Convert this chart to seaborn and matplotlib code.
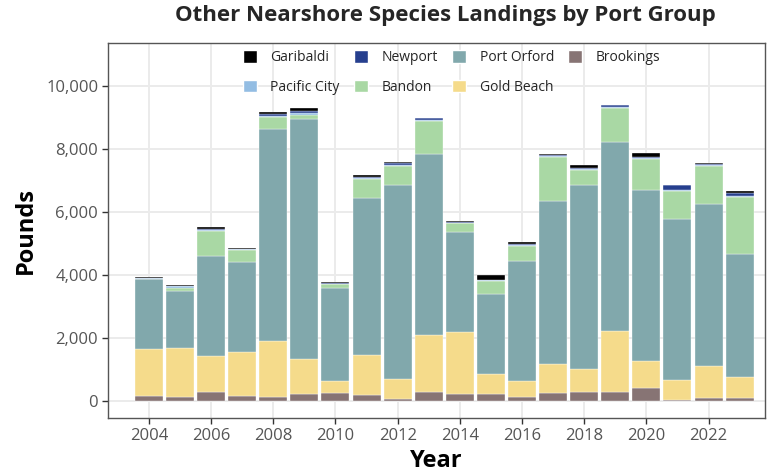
import numpy as np
import pandas as pd
import matplotlib
matplotlib.use("Agg")
import matplotlib.pyplot as plt
import matplotlib.patches as mpatches
from matplotlib.ticker import FuncFormatter
import seaborn as sns

years = list(range(2004, 2024))
brookings   = [158, 116, 284, 147, 116, 232, 253, 200, 63, 274, 211, 211, 126, 253, 274, 295, 411, 32, 84, 84]
gold_beach  = [1484, 1558, 1148, 1421, 1800, 1094, 389, 1253, 642, 1810, 1968, 642, 506, 926, 737, 1937, 852, 621, 1042, 663]
port_orford = [2232, 1821, 3171, 2845, 6733, 7642, 2947, 4991, 6142, 5757, 3186, 2544, 3802, 5181, 5846, 5990, 5435, 5135, 5128, 3937]
bandon      = [0, 84, 794, 381, 362, 117, 127, 604, 623, 1058, 275, 413, 487, 1396, 476, 1090, 985, 879, 1216, 1802]
pacific_city= [20, 63, 50, 25, 50, 50, 15, 40, 40, 20, 20, 20, 20, 40, 40, 20, 30, 20, 15, 20]
newport     = [25, 25, 30, 15, 50, 70, 15, 30, 40, 60, 30, 10, 40, 30, 30, 55, 40, 160, 45, 110]
garibaldi   = [30, 20, 40, 13, 70, 100, 35, 55, 35, 25, 25, 160, 70, 15, 90, 20, 120, 30, 15, 50]

ports = ["Garibaldi", "Newport", "Pacific City", "Bandon", "Port Orford", "Gold Beach", "Brookings"]
series = {
    "Garibaldi": garibaldi, "Newport": newport, "Pacific City": pacific_city,
    "Bandon": bandon, "Port Orford": port_orford, "Gold Beach": gold_beach,
    "Brookings": brookings,
}
colors = {
    "Garibaldi": "#000000", "Newport": "#263F8E", "Pacific City": "#93BDE3",
    "Bandon": "#A9D8A4", "Port Orford": "#81A8AC", "Gold Beach": "#F5DB8B",
    "Brookings": "#877474",
}

rows = []
for p in ports:
    for y, v in zip(years, series[p]):
        rows.append({"Year": y, "Port": p, "Pounds": v})
df = pd.DataFrame(rows)

sns.set_theme(style="whitegrid")
plt.rcParams["font.family"] = ["Open Sans", "DejaVu Sans"]

fig = plt.figure(figsize=(7.82, 4.75), dpi=100)
ax = fig.add_axes([0.138, 0.12, 0.840, 0.789])

sns.histplot(data=df, x="Year", weights="Pounds", hue="Port", hue_order=ports,
             palette=colors, multiple="stack", discrete=True, shrink=0.9,
             alpha=1, edgecolor="white", linewidth=0.25, legend=False, ax=ax)

ax.set_xlim(2002.68, 2023.81)
ax.set_ylim(-540, 11365)
ax.set_xticks(range(2004, 2024, 2))
ax.set_yticks(range(0, 10001, 2000))
ax.yaxis.set_major_formatter(FuncFormatter(lambda v, p: f"{int(v):,}"))
ax.grid(True, color="#EBEBEB", linewidth=1.4)
ax.set_axisbelow(True)
for s in ax.spines.values():
    s.set_color("#555555")
    s.set_linewidth(1.0)
ax.tick_params(axis="both", which="major", length=4, width=1, color="#333333",
               labelsize=12, labelcolor="#555555", bottom=True, left=True, pad=3)

ax.set_xlabel("Year", fontsize=17, fontweight="bold", color="black", labelpad=4)
ax.set_ylabel("Pounds", fontsize=17, fontweight="bold", color="black", labelpad=6)
fig.suptitle("Other Nearshore Species Landings by Port Group", x=0.570, y=0.99,
             fontsize=16, fontweight="bold")

legend_order = ["Garibaldi", "Pacific City", "Newport", "Bandon", "Port Orford",
                "Gold Beach", "Brookings"]
handles = [mpatches.Patch(facecolor=colors[p], edgecolor="white", label=p) for p in legend_order]
ax.legend(handles=handles, ncol=4, loc="upper center", bbox_to_anchor=(0.523, 1.015),
          frameon=False, fontsize=10, handlelength=1.0, handleheight=1.0,
          columnspacing=1.0, labelspacing=1.05, handletextpad=1.0)

fig.savefig("out.png", dpi=100)
